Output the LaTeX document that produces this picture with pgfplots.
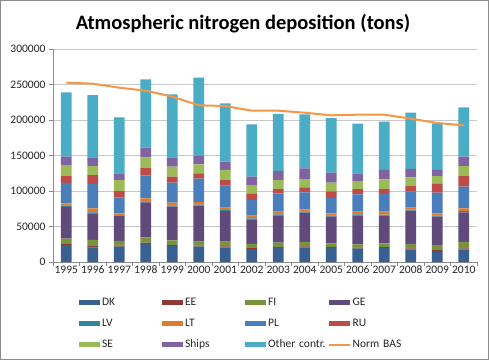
\documentclass[border=0pt]{standalone}
\usepackage{pgfplots}
\pgfplotsset{compat=1.18}
\usepackage{pgfplotstable}
\usepackage{fontspec}
\setmainfont{Carlito}
\definecolor{cDK}{HTML}{386192}
\definecolor{cEE}{HTML}{8E3B38}
\definecolor{cFI}{HTML}{77933C}
\definecolor{cGE}{HTML}{5F4A7B}
\definecolor{cLV}{HTML}{31859C}
\definecolor{cLT}{HTML}{E07B2E}
\definecolor{cPL}{HTML}{4A7EBB}
\definecolor{cRU}{HTML}{BE4B48}
\definecolor{cSE}{HTML}{9BBB59}
\definecolor{cShips}{HTML}{8064A2}
\definecolor{cOther}{HTML}{4BACC6}
\definecolor{cNorm}{HTML}{F79646}
\definecolor{gridc}{HTML}{C8C8C8}
\definecolor{axisc}{HTML}{8C8C8C}
\definecolor{framec}{HTML}{8C8C8C}

\pgfplotstableread{
i year DK EE FI GE LV LT PL RU SE Ships Other Norm
0 1995 23900 1400 7500 45000 1500 3200 29100 9400 15500 11800 90600 252600
1 1996 20700 1800 8500 37500 1500 5600 34300 12600 12700 12200 87800 251200
2 1997 21600 1400 6600 35200 1000 2700 22100 9400 15500 9400 78900 245500
3 1998 25400 1800 7500 49300 1500 4200 31900 11300 14500 13600 96300 241300
4 1999 22500 1400 6600 47400 1500 4200 28100 8500 14100 13100 88800 232900
5 2000 21600 1400 5600 50700 1500 3700 32900 7500 12700 11700 110300 220700
6 2001 20700 1400 6500 43200 1500 3200 31000 8000 14100 11700 82200 219700
7 2002 18300 1400 5700 34700 1500 3700 22000 8500 11700 12700 73700 213100
8 2003 19700 1400 6100 38500 1500 3700 25800 6100 12700 12700 80300 213100
9 2004 20700 1400 6100 41300 1500 3200 23900 7100 11700 15000 76100 210300
10 2005 19700 1400 5200 37600 1500 3100 21600 9400 12200 14100 77000 206600
11 2006 18800 1400 4700 40800 1500 3700 24400 7500 10300 11800 69900 207500
12 2007 19700 1400 5200 39000 1500 4100 24900 7000 13600 13200 68100 207500
13 2008 17800 1400 6200 46900 1500 2700 22600 7900 12300 11700 79300 201900
14 2009 14100 2800 7000 40000 1500 3100 29200 12200 11200 8500 65700 195800
15 2010 17800 1400 9000 41800 1500 4100 30500 15000 14100 13200 69400 192500
}\data

\pgfplotsset{
  bb/.style={fill=#1, draw=none,
    legend image code/.code={\fill[#1] (0pt,-2.5pt) rectangle (21pt,2.5pt);}},
  common/.style={
    at={(53pt,98pt)}, anchor=south west,
    width=424pt, height=213pt, scale only axis,
    xmin=-0.5, xmax=15.5, ymin=0, ymax=300000,
  },
}

\begin{document}
\begin{tikzpicture}
\draw[framec, line width=1.2pt] (0.6pt,0.6pt) rectangle (488.4pt,359.4pt);
\node[font=\fontsize{20.5}{24}\selectfont\bfseries, anchor=base] at (243pt,331pt) {Atmospheric nitrogen deposition (tons)};
\begin{axis}[common,
  ybar stacked, bar width=0.4,
  axis lines*=left,
  axis line style={draw=axisc},
  ymajorgrids, grid style={draw=gridc, line width=0.8pt},
  ytick={0,50000,...,300000},
  scaled y ticks=false,
  /pgf/number format/fixed,
  /pgf/number format/precision=0,
  /pgf/number format/1000 sep={},
  /pgf/number format/assume math mode=true,
  xtick={-0.5,0.5,...,15.5},
  xticklabels={},
  extra x ticks={0,...,15},
  extra x tick labels={1995,1996,1997,1998,1999,2000,2001,2002,2003,2004,2005,2006,2007,2008,2009,2010},
  extra x tick style={major tick length=0pt},
  tick align=outside,
  major tick length=4pt,
  tick style={draw=axisc},
  tick label style={font=\fontsize{11.5}{13}\selectfont, text=black!85},
  legend columns=4,
  legend style={at={(0.455,-0.15)}, anchor=north, draw=none,
    font=\fontsize{11.5}{13}\selectfont,
    nodes={text width=58pt, align=left, text=black!85},
    row sep=8pt},
]
\addplot[bb=cDK] table[x=i,y=DK]{\data}; \addlegendentry{DK}
\addplot[bb=cEE] table[x=i,y=EE]{\data}; \addlegendentry{EE}
\addplot[bb=cFI] table[x=i,y=FI]{\data}; \addlegendentry{FI}
\addplot[bb=cGE] table[x=i,y=GE]{\data}; \addlegendentry{GE}
\addplot[bb=cLV] table[x=i,y=LV]{\data}; \addlegendentry{LV}
\addplot[bb=cLT] table[x=i,y=LT]{\data}; \addlegendentry{LT}
\addplot[bb=cPL] table[x=i,y=PL]{\data}; \addlegendentry{PL}
\addplot[bb=cRU] table[x=i,y=RU]{\data}; \addlegendentry{RU}
\addplot[bb=cSE] table[x=i,y=SE]{\data}; \addlegendentry{SE}
\addplot[bb=cShips] table[x=i,y=Ships]{\data}; \addlegendentry{Ships}
\addplot[bb=cOther] table[x=i,y=Other]{\data}; \addlegendentry{Other contr.}
\addlegendimage{legend image code/.code={\draw[cNorm, line width=1.6pt] (0pt,0pt)--(21pt,0pt);}}
\addlegendentry{Norm BAS}
\end{axis}
\begin{axis}[common, hide axis]
\addplot[cNorm, line width=2pt, no marks] table[x=i,y=Norm]{\data};
\end{axis}
\end{tikzpicture}
\end{document}
